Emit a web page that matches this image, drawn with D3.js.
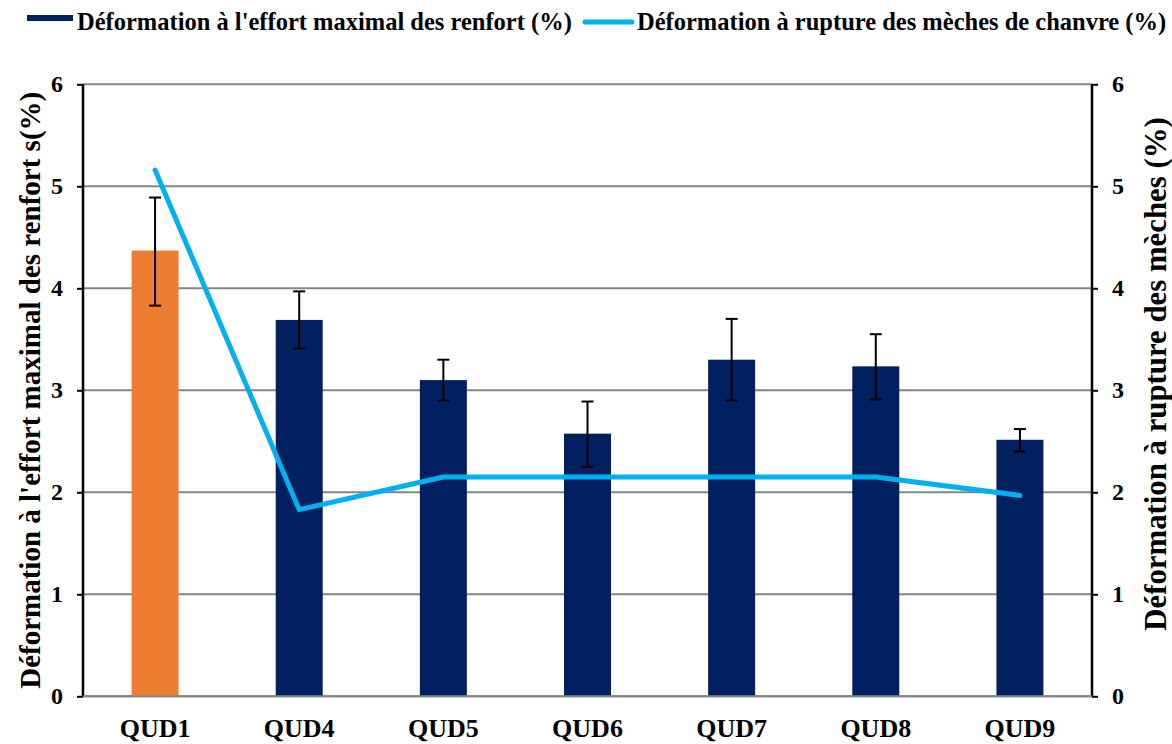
<!DOCTYPE html>
<html>
<head>
<meta charset="utf-8">
<script src="https://cdn.jsdelivr.net/npm/d3@7"></script>
<style>
  html, body { margin: 0; padding: 0; background: #fff; }
  svg text { font-family: "Liberation Serif", "Times New Roman", serif; font-weight: bold; fill: #000; }
</style>
</head>
<body>
<svg id="chart" width="1172" height="744"></svg>
<script>
// Éprouvettes
const categories = ["QUD1", "QUD4", "QUD5", "QUD6", "QUD7", "QUD8", "QUD9"];
// Déformation à l'effort maximal des renforts (%)
const strainAtMaxLoad = [4.37, 3.69, 3.10, 2.575, 3.30, 3.235, 2.515];
// Barres d'erreur (bornes basse / haute)
const errorLow  = [3.83, 3.41, 2.90, 2.25, 2.90, 2.91, 2.40];
const errorHigh = [4.89, 3.97, 3.30, 2.89, 3.70, 3.55, 2.62];
// Déformation à rupture des mèches de chanvre (%)
const yarnStrain = [5.16, 1.83, 2.15, 2.15, 2.15, 2.15, 1.97];
const yTicks = [0, 1, 2, 3, 4, 5, 6];
const barColors = ["#ED7D31", "#002060", "#002060", "#002060", "#002060", "#002060", "#002060"];

const svg = d3.select("#chart");
const margin = { left: 83, right: 1092, top: 84.3, bottom: 696.3 };

const x = d3.scaleBand().domain(categories).range([margin.left, margin.right]).paddingInner(0).paddingOuter(0);
const yL = d3.scaleLinear().domain([0, 6]).range([margin.bottom, margin.top]);
const yR = d3.scaleLinear().domain([0, 6]).range([margin.bottom, margin.top]);
const barW = 47;

// Quadrillage horizontal
svg.append("g").selectAll("line").data(yTicks).join("line")
  .attr("x1", margin.left).attr("x2", margin.right)
  .attr("y1", d => yL(d)).attr("y2", d => yL(d))
  .attr("stroke", "#868686").attr("stroke-width", 2);

// Barres
svg.append("g").selectAll("rect").data(categories).join("rect")
  .attr("x", d => x(d) + x.bandwidth() / 2 - barW / 2)
  .attr("width", barW)
  .attr("y", (d, i) => yL(strainAtMaxLoad[i]))
  .attr("height", (d, i) => yL(0) - yL(strainAtMaxLoad[i]))
  .attr("fill", (d, i) => barColors[i]);

// Barres d'erreur
const eg = svg.append("g").attr("stroke", "#000").attr("stroke-width", 2);
categories.forEach((c, i) => {
  const cx = x(c) + x.bandwidth() / 2;
  eg.append("line").attr("x1", cx).attr("x2", cx).attr("y1", yL(errorLow[i])).attr("y2", yL(errorHigh[i]));
  [errorLow[i], errorHigh[i]].forEach(v => {
    eg.append("line").attr("x1", cx - 6).attr("x2", cx + 6).attr("y1", yL(v)).attr("y2", yL(v));
  });
});

// Courbe des mèches
const line = d3.line().x((d, i) => x(categories[i]) + x.bandwidth() / 2).y(d => yR(d));
svg.append("path").datum(yarnStrain)
  .attr("d", line).attr("fill", "none")
  .attr("stroke", "#00B0F0").attr("stroke-width", 5)
  .attr("stroke-linecap", "round").attr("stroke-linejoin", "round");

// Axes
const axL = svg.append("g").attr("transform", `translate(${margin.left},0)`)
  .call(d3.axisLeft(yL).tickValues(yTicks).tickFormat(d3.format("d")).tickSize(6).tickPadding(14));
const axR = svg.append("g").attr("transform", `translate(${margin.right},0)`)
  .call(d3.axisRight(yR).tickValues(yTicks).tickFormat(d3.format("d")).tickSize(6).tickPadding(14));
[axL, axR].forEach(ax => {
  ax.select(".domain").attr("stroke", "#000").attr("stroke-width", 2.5)
    .attr("d", `M0,${margin.bottom}V${margin.top}`);
  ax.selectAll(".tick line").attr("stroke", "#000").attr("stroke-width", 2);
  ax.selectAll(".tick text").attr("font-size", 24);
});

// Axe des abscisses (catégories)
const axX = svg.append("g").attr("transform", `translate(0,${margin.bottom})`)
  .call(d3.axisBottom(x).tickSize(0).tickPadding(22));
axX.select(".domain").remove();
axX.selectAll(".tick text").attr("font-size", 26);

// Ligne de base
svg.append("line").attr("x1", margin.left).attr("x2", margin.right)
  .attr("y1", yL(0)).attr("y2", yL(0)).attr("stroke", "#868686").attr("stroke-width", 2);

// Titres des axes
svg.append("text")
  .attr("transform", `translate(40,${(margin.top + margin.bottom) / 2}) rotate(-90)`)
  .attr("text-anchor", "middle").attr("font-size", 29)
  .text("Déformation à l'effort maximal des renfort s(%)");
svg.append("text")
  .attr("transform", `translate(1166,374) rotate(-90)`)
  .attr("text-anchor", "middle").attr("font-size", 30.8)
  .text("Déformation à rupture des mèches (%)");

// Légende
const lg = svg.append("g");
lg.append("rect").attr("x", 27).attr("y", 15).attr("width", 46).attr("height", 6).attr("fill", "#002060");
lg.append("text").attr("x", 77).attr("y", 30).attr("font-size", 24.5)
  .text("Déformation à l'effort maximal des renfort (%)");
lg.append("line").attr("x1", 585).attr("x2", 632).attr("y1", 22).attr("y2", 22)
  .attr("stroke", "#00B0F0").attr("stroke-width", 5).attr("stroke-linecap", "round");
lg.append("text").attr("x", 637).attr("y", 30).attr("font-size", 24.5)
  .text("Déformation à rupture des mèches de chanvre (%)");
</script>
</body>
</html>
